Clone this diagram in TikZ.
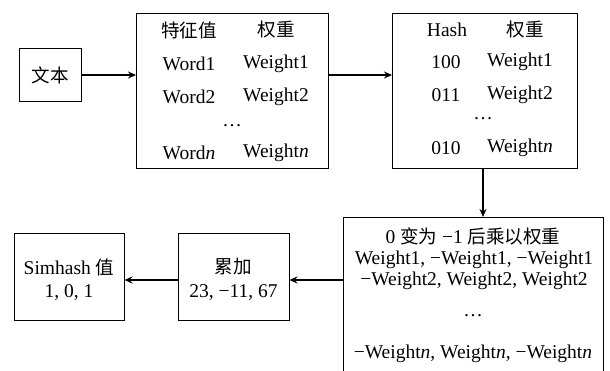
\documentclass[tikz,border=0pt]{standalone}
\usepackage{fontspec}
\setmainfont{Liberation Serif}
\newfontfamily\cjk{Noto Sans CJK SC}[Scale=0.95]
\usetikzlibrary{arrows.meta}
\tikzset{
  box/.style={draw, line width=0.9pt},
  conn/.style={line width=1.8pt, -{Stealth[length=8pt,width=7pt]}},
  txt/.style={inner sep=0pt, font=\fontsize{19.5}{21}\selectfont, anchor=center}
}
\begin{document}
\begin{tikzpicture}[x=1pt,y=-1pt]
\useasboundingbox (0,0) rectangle (610,370);
% boxes
\node[box, minimum width=62pt, minimum height=53pt, inner sep=0pt] (text) at (50,75) {};
\node[txt] at (text.center) {\cjk 文本};
\draw[box] (136,13) rectangle (328,168);
\coordinate (b2w) at (136,75);
\coordinate (b2e) at (328,75);
\draw[box] (392,13) rectangle (577,168);
\coordinate (b3w) at (392,75);
\coordinate (b3s) at (483,168);
\begin{scope}
\clip (0,0) rectangle (610,370);
\draw[box] (343,217) rectangle (603,380);
\end{scope}
\coordinate (b4n) at (483,217);
\coordinate (b4w) at (343,280);
\node[box, minimum width=111pt, minimum height=87pt, inner sep=0pt] (acc) at (233.5,276.5) {};
\node[box, minimum width=110pt, minimum height=87pt, inner sep=0pt] (sim) at (69,276.5) {};
% box2 text
\node[txt] at (189,30) {\cjk 特征值};
\node[txt] at (276,30) {\cjk 权重};
\node[txt] at (189,64) {Word1};
\node[txt] at (276,64) {Weight1};
\node[txt] at (189,97) {Word2};
\node[txt] at (276,97) {Weight2};
\node[txt] at (232,126) {\ldots};
\node[txt] at (189,153) {Word\textit{n}};
\node[txt] at (276,153) {Weight\textit{n}};
% box3 text
\node[txt] at (447,30) {Hash};
\node[txt] at (525,30) {\cjk 权重};
\node[txt] at (446,62) {100};
\node[txt] at (520,62) {Weight1};
\node[txt] at (446,95) {011};
\node[txt] at (520,95) {Weight2};
\node[txt] at (483,119) {\ldots};
\node[txt] at (446,148) {010};
\node[txt] at (520,148) {Weight\textit{n}};
% box4 text
\node[txt] at (473,236) {0 {\cjk 变为} −1 {\cjk 后乘以权重}};
\node[txt] at (474,260) {Weight1, −Weight1, −Weight1};
\node[txt] at (474,281) {−Weight2, Weight2, Weight2};
\node[txt] at (473,316) {\ldots};
\node[txt] at (473,354) {−Weight\textit{n}, Weight\textit{n}, −Weight\textit{n}};
% acc / sim text
\node[txt] at (233.5,267) {\cjk 累加};
\node[txt] at (233.5,293) {23, −11, 67};
\node[txt] at (69,267) {Simhash {\cjk 值}};
\node[txt] at (69,293) {1, 0, 1};
% connectors
\draw[conn] (text.east) -- (b2w);
\draw[conn] (b2e) -- (b3w);
\draw[conn] (b3s) -- (b4n);
\draw[conn] (b4w) -- (b4w -| acc.east);
\draw[conn] (b4w -| acc.west) -- (b4w -| sim.east);
\end{tikzpicture}
\end{document}
